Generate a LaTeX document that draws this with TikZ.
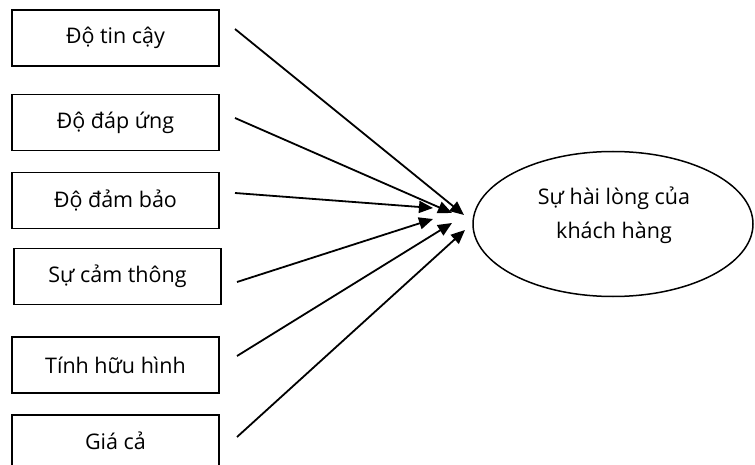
\documentclass[tikz,border=0pt]{standalone}
\usepackage{fontspec}
\setmainfont{Open Sans}
\usetikzlibrary{arrows.meta,shapes.geometric}
\begin{document}
\begin{tikzpicture}[x=1pt,y=-1pt,
  box/.style={draw,line width=1.5pt,minimum width=207pt,minimum height=56pt,inner sep=0pt,font=\fontsize{21.5}{24}\selectfont},
  arr/.style={line width=1.8pt,-{Triangle[length=14pt,width=12pt]}},
  ell/.style={draw,ellipse,line width=1.5pt,minimum width=280pt,minimum height=145pt,inner sep=0pt}]
\useasboundingbox (0,0) rectangle (755,465);
\node[box] (b1) at (115.5,38) {Độ tin cậy};
\node[box] (b2) at (115.5,122.5) {Độ đáp ứng};
\node[box] (b3) at (115.5,200.5) {Độ đảm bảo};
\node[box] (b4) at (117.5,276.5) {Sự cảm thông};
\node[box] (b5) at (115.5,365) {Tính hữu hình};
\node[box,minimum height=70pt] (b6) at (115.5,450) {};
\node (b6t) at (115.5,441) {\fontsize{21.5}{24}\selectfont Giá cả};
\node[ell] (e) at (613,224) {};
\node[align=center,font=\fontsize{21.5}{34}\selectfont] (et) at (614,215) {Sự hài lòng của\\khách hàng};
\coordinate (s1) at (235,29);  \coordinate (t1) at (464,215);
\coordinate (s2) at (235,118); \coordinate (t2) at (452,213);
\coordinate (s3) at (235,193); \coordinate (t3) at (433,208);
\coordinate (s4) at (237,282); \coordinate (t4) at (433,219);
\coordinate (s5) at (237,356); \coordinate (t5) at (452,223);
\coordinate (s6) at (237,437); \coordinate (t6) at (465,230);
\foreach \i in {1,...,6} \draw[arr] (s\i) -- (t\i);
\end{tikzpicture}
\end{document}
